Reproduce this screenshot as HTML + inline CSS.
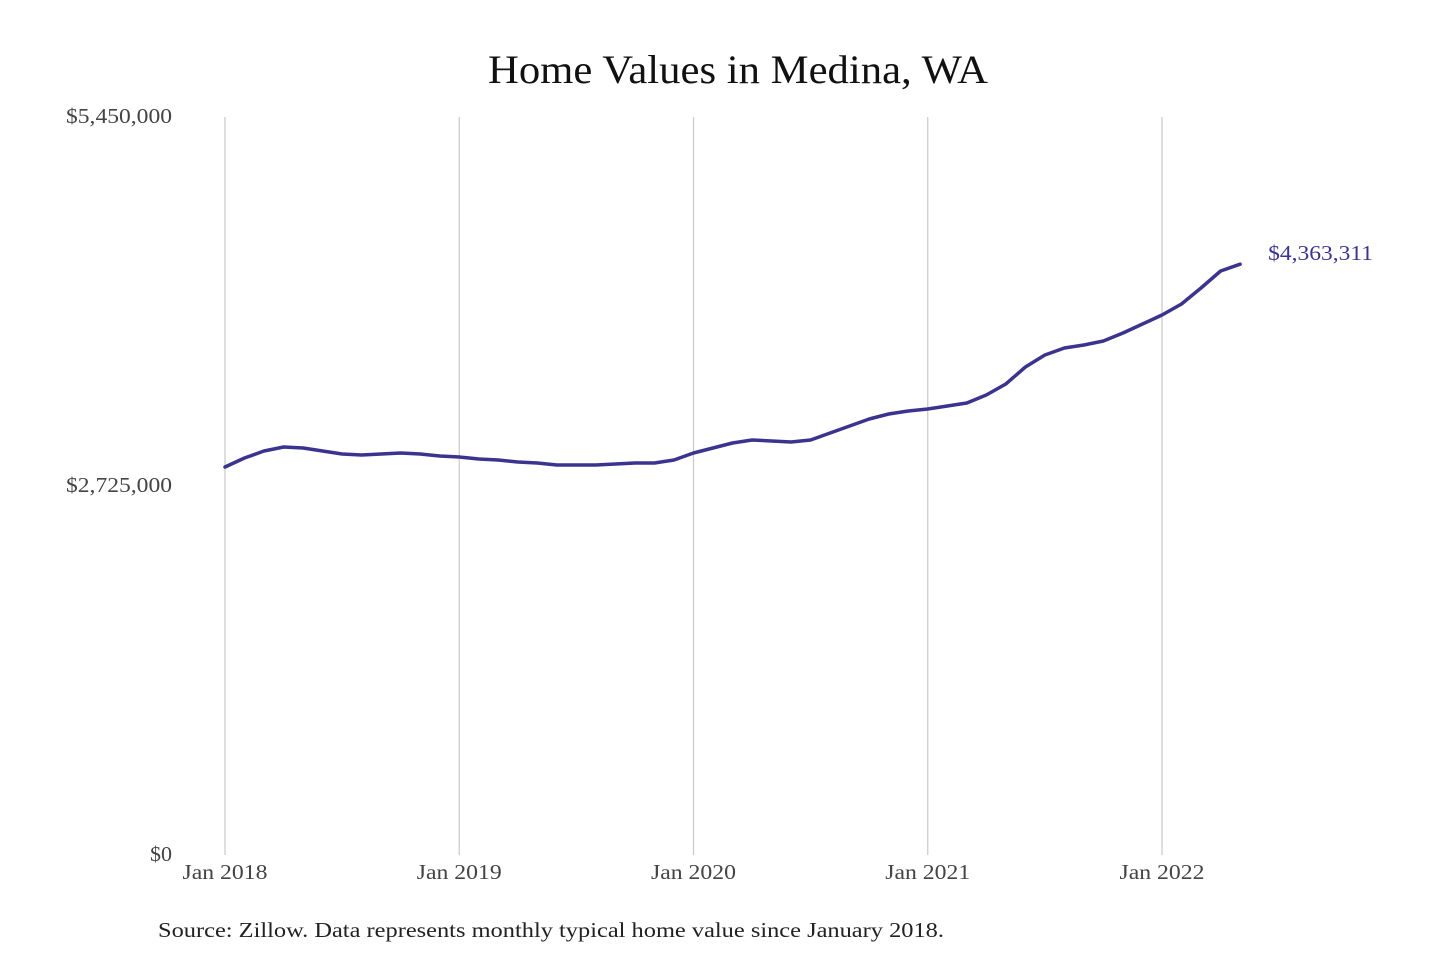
<!DOCTYPE html>
<html><head><meta charset="utf-8">
<style>
html,body{margin:0;padding:0;background:#fff;}
svg{display:block;font-family:"Liberation Serif",serif;}
</style></head>
<body>
<svg id="chart" width="1440" height="960" viewBox="0 0 1440 960">
<text x="738" y="83" text-anchor="middle" font-size="40" fill="#111" textLength="500" lengthAdjust="spacingAndGlyphs">Home Values in Medina, WA</text>
<g id="grid"></g>
<g id="yticks"></g>
<g id="xticks"></g>
<path id="line" fill="none" stroke="#3a348f" stroke-width="3.5" stroke-linejoin="round" stroke-linecap="round"/>
<text id="endlabel" font-size="21" fill="#3a348f" textLength="105" lengthAdjust="spacingAndGlyphs"></text>
<text x="158" y="937" font-size="21" fill="#222" textLength="786" lengthAdjust="spacingAndGlyphs">Source: Zillow. Data represents monthly typical home value since January 2018.</text>
</svg>
<script>
const values = [2865000,2931800,2983500,3013100,3005700,2983500,2961400,2954000,2961400,2968800,2961400,2946600,
2939200,2924500,2917100,2902300,2894900,2880200,2880200,2880200,2887500,2894900,2894900,2917100,
2968800,3005700,3042600,3064800,3057400,3050000,3064800,3116500,3168200,3219900,3256800,3278900,
3293700,3315900,3338000,3397100,3478300,3603900,3692500,3744200,3766400,3795900,3855000,3921400,
3987900,4069100,4187300,4312800,4363311];
const yTickValues = [0, 2725000, 5450000];
const yTickLabels = ["$0", "$2,725,000", "$5,450,000"];
const xTickMonths = [0, 12, 24, 36, 48];
const xTickLabels = ["Jan 2018", "Jan 2019", "Jan 2020", "Jan 2021", "Jan 2022"];
const endLabel = "$4,363,311";

const NS = "http://www.w3.org/2000/svg";
const x0 = 225, perMonth = (1162 - 225) / 48;
const yTop = 117, yBot = 855, yMax = 5450000;
const xs = m => x0 + m * perMonth;
const ys = v => yBot - v / yMax * (yBot - yTop);

const grid = document.getElementById('grid');
const xt = document.getElementById('xticks');
xTickMonths.forEach((m, i) => {
  const l = document.createElementNS(NS, 'line');
  
  
  l.setAttribute('x1', xs(m)); l.setAttribute('x2', xs(m));
  l.setAttribute('y1', yTop); l.setAttribute('y2', yBot);
  l.setAttribute('stroke', '#c8c8c8'); l.setAttribute('stroke-width', '1.2');
  grid.appendChild(l);
  const t = document.createElementNS(NS, 'text');
  
  
  t.setAttribute('x', xs(m)); t.setAttribute('y', 879);
  t.setAttribute('text-anchor', 'middle'); t.setAttribute('font-size', '21'); t.setAttribute('fill', '#444');
  t.setAttribute('textLength', '85'); t.setAttribute('lengthAdjust', 'spacingAndGlyphs');
  t.textContent = xTickLabels[i];
  xt.appendChild(t);
});
const yLens = [22, 106, 106];
const yt = document.getElementById('yticks');
yTickValues.forEach((v, i) => {
  const t = document.createElementNS(NS, 'text');
  
  
  t.setAttribute('x', 172); t.setAttribute('y', ys(v) + 6);
  t.setAttribute('text-anchor', 'end'); t.setAttribute('font-size', '21'); t.setAttribute('fill', '#444');
  t.setAttribute('textLength', yLens[i]); t.setAttribute('lengthAdjust', 'spacingAndGlyphs');
  t.textContent = yTickLabels[i];
  yt.appendChild(t);
});
let d = '';
values.forEach((v, i) => { d += (i ? 'L' : 'M') + xs(i).toFixed(1) + ',' + ys(v).toFixed(1); });
document.getElementById('line').setAttribute('d', d);
const last = values.length - 1;
const el = document.getElementById('endlabel');
el.setAttribute('x', xs(last) + 28);
el.setAttribute('y', ys(values[last]) - 4);
el.textContent = endLabel;
</script>
</body></html>
